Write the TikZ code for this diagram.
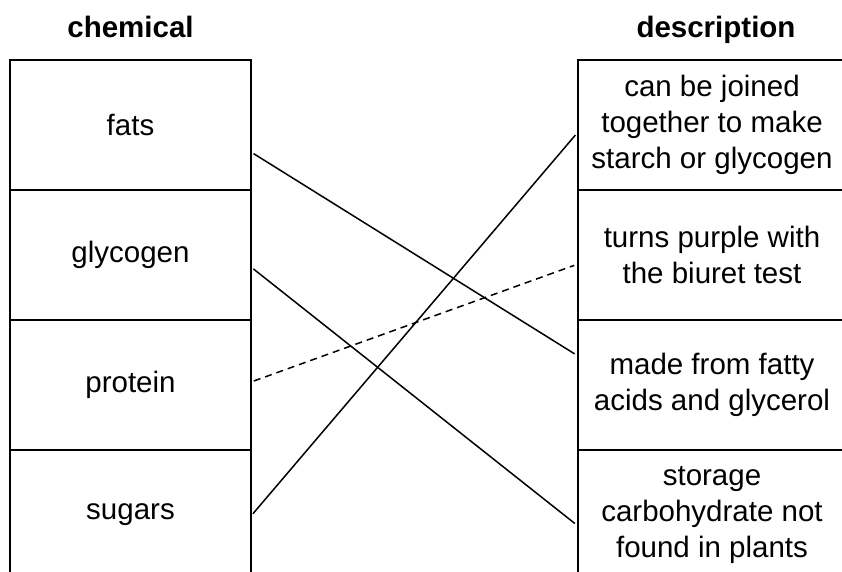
\documentclass[tikz,border=0pt]{standalone}
\usepackage{fontspec}
\setmainfont{Liberation Sans}
\usepackage{tikz}
\usetikzlibrary{positioning}

\begin{document}
\begin{tikzpicture}[x=1pt,y=-1pt,
chem/.style={rectangle,draw,line width=2pt,minimum width=241pt,minimum height=130pt,inner sep=0pt,outer sep=0pt,
  font=\fontsize{29.5}{36}\selectfont},
desc/.style={rectangle,draw,line width=2pt,minimum width=268pt,minimum height=130pt,inner sep=0pt,outer sep=0pt,
  align=center,font=\fontsize{29.5}{36}\selectfont},
head/.style={anchor=base,font=\fontsize{29.5}{36}\selectfont\bfseries},
edge/.style={line width=1.5pt,shorten <=3pt,shorten >=4pt}]

\useasboundingbox (0,0) rectangle (842,572);
\clip (0,0) rectangle (842,572);

% headings
\node[head] (chemhead) at (130.5,38) {chemical};
\node[head] (deschead) at (716,38) {description};

% chemicals
\node[chem] (fats) at (130.5,125) {fats};
\node[chem,below=0pt of fats] (glycogen) {glycogen};
\node[chem,below=0pt of glycogen] (protein) {protein};
\node[chem,below=0pt of protein] (sugars) {sugars};

% descriptions
\node[desc] (joined) at (712,125) {can be joined\\together to make\\starch or glycogen};
\node[desc,below=0pt of joined] (biuret) {turns purple with\\the biuret test};
\node[desc,below=0pt of biuret] (fatty) {made from fatty\\acids and glycerol};
\node[desc,below=0pt of fatty] (storage) {storage\\carbohydrate not\\found in plants};

% lines
\draw[edge] ([yshift=-27pt]fats.east) -- ([yshift=29pt]fatty.west);
\draw[edge] ([yshift=-12pt]glycogen.east) -- ([yshift=-11pt]storage.west);
\draw[edge,dash pattern=on 7pt off 5pt] ([yshift=3pt]protein.east) -- ([yshift=-9pt]biuret.west);
\draw[edge] ([yshift=-1pt]sugars.east) -- ([yshift=-7pt]joined.west);
\end{tikzpicture}
\end{document}
